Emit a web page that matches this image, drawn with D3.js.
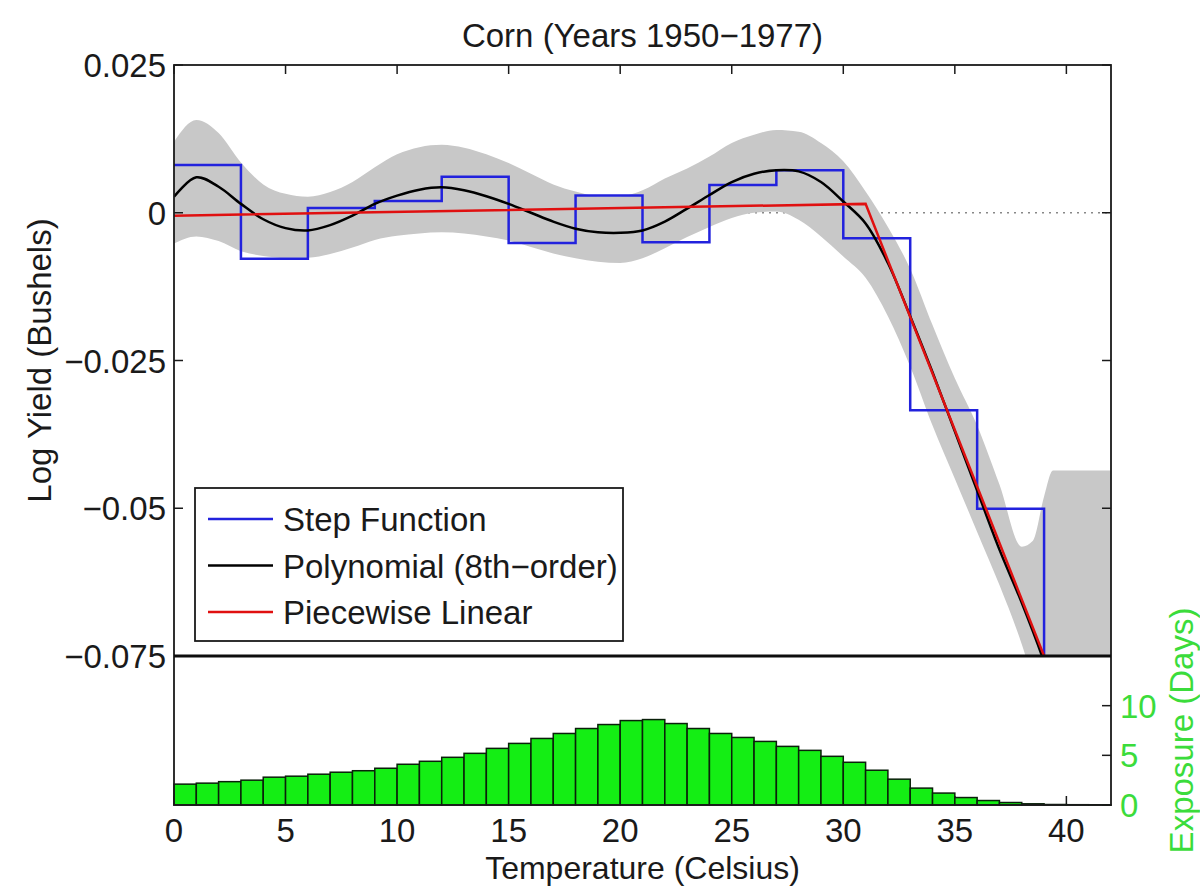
<!DOCTYPE html>
<meta charset="utf-8">
<html>
<head>
<script src="https://cdnjs.cloudflare.com/ajax/libs/d3/7.8.5/d3.min.js"></script>
<style>
  body { margin: 0; background: #fff; }
  text { font-family: "Liberation Sans", Arial, Helvetica, sans-serif; }
</style>
</head>
<body>
<script>
// ---- data ----
var tempTicks = [0, 5, 10, 15, 20, 25, 30, 35, 40];
var yieldTicks = [0.025, 0, -0.025, -0.05, -0.075];
var yieldTickLabels = ["0.025", "0", "\u22120.025", "\u22120.05", "\u22120.075"];
var exposureTicks = [0, 5, 10];

// step function (3 degree bins)
var stepEdges = [0, 3, 6, 9, 12, 15, 18, 21, 24, 27, 30, 33, 36, 39, 42];
var stepValues = [0.0081, -0.0078, 0.0008, 0.002, 0.0061, -0.0051, 0.0029,
                  -0.005, 0.0047, 0.0072, -0.0043, -0.0334, -0.0501, -0.0752];

// 8th order polynomial
var polyTemps = [0,1,2,3,4,5,6,7,8,9,10,11,12,13,14,15,16,17,18,19,20,
                 21,22,23,24,25,26,27,28,29,30,31,32,33,34,35,36,37,38,39,40];
var polyValues = [0.0027, 0.006, 0.0044, 0.0015, -0.0011, -0.0026, -0.003, -0.0021,
                  -0.0005, 0.0015, 0.0029, 0.0039, 0.0043, 0.0038, 0.0028, 0.0015,
                  0.0, -0.0015, -0.0027, -0.0033, -0.0034, -0.003, -0.0015, 0.0007,
                  0.003, 0.0052, 0.0066, 0.0072, 0.007, 0.0052, 0.0019, -0.0018,
                  -0.0085, -0.0175, -0.027, -0.037, -0.047, -0.057, -0.066, -0.076, -0.088];

// confidence band of the polynomial
var bandTemps = [0,1,2,3,4,5,6,7,8,9,10,11,12,13,14,15,16,17,18,19,20,
                 21,22,23,24,25,26,27,28,29,30,31,32,33,34,35,36,37,38,38.5,39,39.4,40,41,42];
var bandUpper = [0.012, 0.0157, 0.0135, 0.0085, 0.0048, 0.0032, 0.0027, 0.0035, 0.0052,
                 0.0077, 0.0099, 0.0111, 0.0115, 0.011, 0.0099, 0.0084, 0.0066, 0.0048,
                 0.0036, 0.0028, 0.0028, 0.0038, 0.0058, 0.0075, 0.0095, 0.0118, 0.0132,
                 0.014, 0.0137, 0.0118, 0.0087, 0.0036, -0.0024, -0.0095, -0.019, -0.028,
                 -0.036, -0.046, -0.0565, -0.0555, -0.048, -0.0436, -0.0436, -0.0436, -0.0436];
var bandLower = [-0.0052, -0.004, -0.0048, -0.0065, -0.0073, -0.0076, -0.0076, -0.007,
                 -0.0059, -0.0046, -0.0039, -0.0035, -0.0033, -0.0035, -0.004, -0.0047,
                 -0.0058, -0.0069, -0.0077, -0.0083, -0.0085, -0.0077, -0.006, -0.0041,
                 -0.0024, -0.0009, 0.0, 0.0002, -0.0012, -0.004, -0.0074, -0.011, -0.0175,
                 -0.026, -0.036, -0.045, -0.054, -0.063, -0.073, -0.079, -0.085, -0.09,
                 -0.1, -0.1, -0.1];

// piecewise linear
var linearTemps = [0, 31, 39];
var linearValues = [-0.0005, 0.0015, -0.075];

// exposure histogram (1 degree bins starting at 0)
var exposureDays = [2.1, 2.2, 2.35, 2.5, 2.8, 2.9, 3.1, 3.3, 3.45, 3.7, 4.1, 4.4, 4.8,
                    5.2, 5.7, 6.2, 6.7, 7.2, 7.7, 8.1, 8.5, 8.6, 8.2, 7.7, 7.2, 6.8,
                    6.4, 5.9, 5.5, 4.9, 4.3, 3.5, 2.6, 1.7, 1.2, 0.75, 0.45, 0.25,
                    0.12, 0.05, 0.03, 0.02];

var legendNames = ["Step Function", "Polynomial (8th\u2212order)", "Piecewise Linear"];
var legendColors = ["#2222dd", "#000000", "#e01010"];

// ---- layout ----
var W = 1200, H = 886;
var boxL = 174, boxR = 1111, boxT = 65, boxMid = 656, boxB = 805;
var fs = 33;

var svg = d3.select("body").append("svg")
    .attr("width", W).attr("height", H);

var x = d3.scaleLinear().domain([0, 42]).range([boxL, boxR]);
var y = d3.scaleLinear().domain([-0.075, 0.025]).range([boxMid, boxT]);
var ye = d3.scaleLinear().domain([0, 15]).range([boxB, boxMid]);

function label(g, str, px, py, anchor, color, rot, size) {
    var t = "translate(" + px + "," + py + ")" + (rot ? " rotate(" + rot + ")" : "");
    return g.append("text")
        .attr("transform", t)
        .attr("text-anchor", anchor)
        .style("font-size", (size || fs) + "px")
        .style("fill", color || "#1a1a1a")
        .text(str);
}

svg.append("clipPath").attr("id", "clipTop")
   .append("rect").attr("x", boxL).attr("y", boxT)
   .attr("width", boxR - boxL).attr("height", boxMid - boxT);

var plot = svg.append("g").attr("clip-path", "url(#clipTop)");

// dotted zero line
plot.append("line")
    .attr("x1", x(0)).attr("x2", x(42))
    .attr("y1", y(0)).attr("y2", y(0))
    .style("stroke", "#888").style("stroke-width", 1.5)
    .style("stroke-dasharray", "2,5");

// gray band
var band = bandTemps.map(function(t, i) { return [t, bandLower[i], bandUpper[i]]; });
plot.append("path")
    .datum(band)
    .attr("d", d3.area()
        .x(function(d) { return x(d[0]); })
        .y0(function(d) { return y(d[1]); })
        .y1(function(d) { return y(d[2]); })
        .curve(d3.curveMonotoneX))
    .style("fill", "#c8c8c8");

// step function
var steps = stepValues.map(function(v, i) { return [stepEdges[i], v]; });
steps.push([stepEdges[stepEdges.length - 1], stepValues[stepValues.length - 1]]);
plot.append("path")
    .datum(steps)
    .attr("d", d3.line()
        .x(function(d) { return x(d[0]); })
        .y(function(d) { return y(d[1]); })
        .curve(d3.curveStepAfter))
    .style("fill", "none").style("stroke", legendColors[0]).style("stroke-width", 2.5);

// polynomial
plot.append("path")
    .datum(polyTemps.map(function(t, i) { return [t, polyValues[i]]; }))
    .attr("d", d3.line()
        .x(function(d) { return x(d[0]); })
        .y(function(d) { return y(d[1]); })
        .curve(d3.curveCatmullRom))
    .style("fill", "none").style("stroke", legendColors[1]).style("stroke-width", 2.5);

// piecewise linear
plot.append("path")
    .datum(linearTemps.map(function(t, i) { return [t, linearValues[i]]; }))
    .attr("d", d3.line()
        .x(function(d) { return x(d[0]); })
        .y(function(d) { return y(d[1]); }))
    .style("fill", "none").style("stroke", legendColors[2]).style("stroke-width", 2.5);

// ticks inside the box
var tick = 9;
var axes = svg.append("g").style("stroke", "#1a1a1a").style("stroke-width", 1.5);
yieldTicks.forEach(function(v) {
    axes.append("line").attr("x1", boxL).attr("x2", boxL + tick)
        .attr("y1", y(v)).attr("y2", y(v));
    axes.append("line").attr("x1", boxR).attr("x2", boxR - tick)
        .attr("y1", y(v)).attr("y2", y(v));
});
tempTicks.forEach(function(t) {
    axes.append("line").attr("x1", x(t)).attr("x2", x(t))
        .attr("y1", boxT).attr("y2", boxT + tick);
    axes.append("line").attr("x1", x(t)).attr("x2", x(t))
        .attr("y1", boxB).attr("y2", boxB - tick);
});
exposureTicks.forEach(function(v) {
    axes.append("line").attr("x1", boxR).attr("x2", boxR - tick)
        .attr("y1", ye(v)).attr("y2", ye(v));
});

// exposure bars
svg.append("g").selectAll("rect")
    .data(exposureDays)
    .join("rect")
    .attr("x", function(d, i) { return x(i); })
    .attr("width", x(1) - x(0))
    .attr("y", function(d) { return ye(d); })
    .attr("height", function(d) { return ye(0) - ye(d); })
    .style("fill", "#14ee14")
    .style("stroke", "#0a200a")
    .style("stroke-width", 1.5);

// boxes
svg.append("rect").attr("x", boxL).attr("y", boxT)
    .attr("width", boxR - boxL).attr("height", boxB - boxT)
    .style("fill", "none").style("stroke", "#1a1a1a").style("stroke-width", 1.8);
svg.append("line").attr("x1", boxL).attr("x2", boxR)
    .attr("y1", boxMid).attr("y2", boxMid)
    .style("stroke", "#0d0d0d").style("stroke-width", 3);

// legend
var lg = svg.append("g");
lg.append("rect").attr("x", 195).attr("y", 488).attr("width", 428).attr("height", 153)
  .style("fill", "#fff").style("stroke", "#1a1a1a").style("stroke-width", 1.8);
legendNames.forEach(function(name, i) {
    var ly = 519 + i * 46.5;
    lg.append("line").attr("x1", 208).attr("x2", 273).attr("y1", ly).attr("y2", ly)
      .style("stroke", legendColors[i]).style("stroke-width", 2.5);
    label(lg, name, 283, ly + 12, "start");
});

// tick labels
var txt = svg.append("g");
yieldTicks.forEach(function(v, i) {
    label(txt, yieldTickLabels[i], 166, y(v) + 12, "end");
});
tempTicks.forEach(function(t) {
    label(txt, String(t), x(t), 842, "middle");
});
exposureTicks.forEach(function(v) {
    label(txt, String(v), 1120, ye(v) + 12, "start", "#3bdc3b");
});

// titles
label(txt, "Corn (Years 1950\u22121977)", (boxL + boxR) / 2, 47, "middle");
label(txt, "Temperature (Celsius)", (boxL + boxR) / 2, 879, "middle", null, 0, 32);
label(txt, "Log Yield (Bushels)", 51, (boxT + boxMid) / 2, "middle", null, -90);
label(txt, "Exposure (Days)", 1193, (boxMid + boxB) / 2, "middle", "#3bdc3b", -90);
</script>
</body>
</html>
